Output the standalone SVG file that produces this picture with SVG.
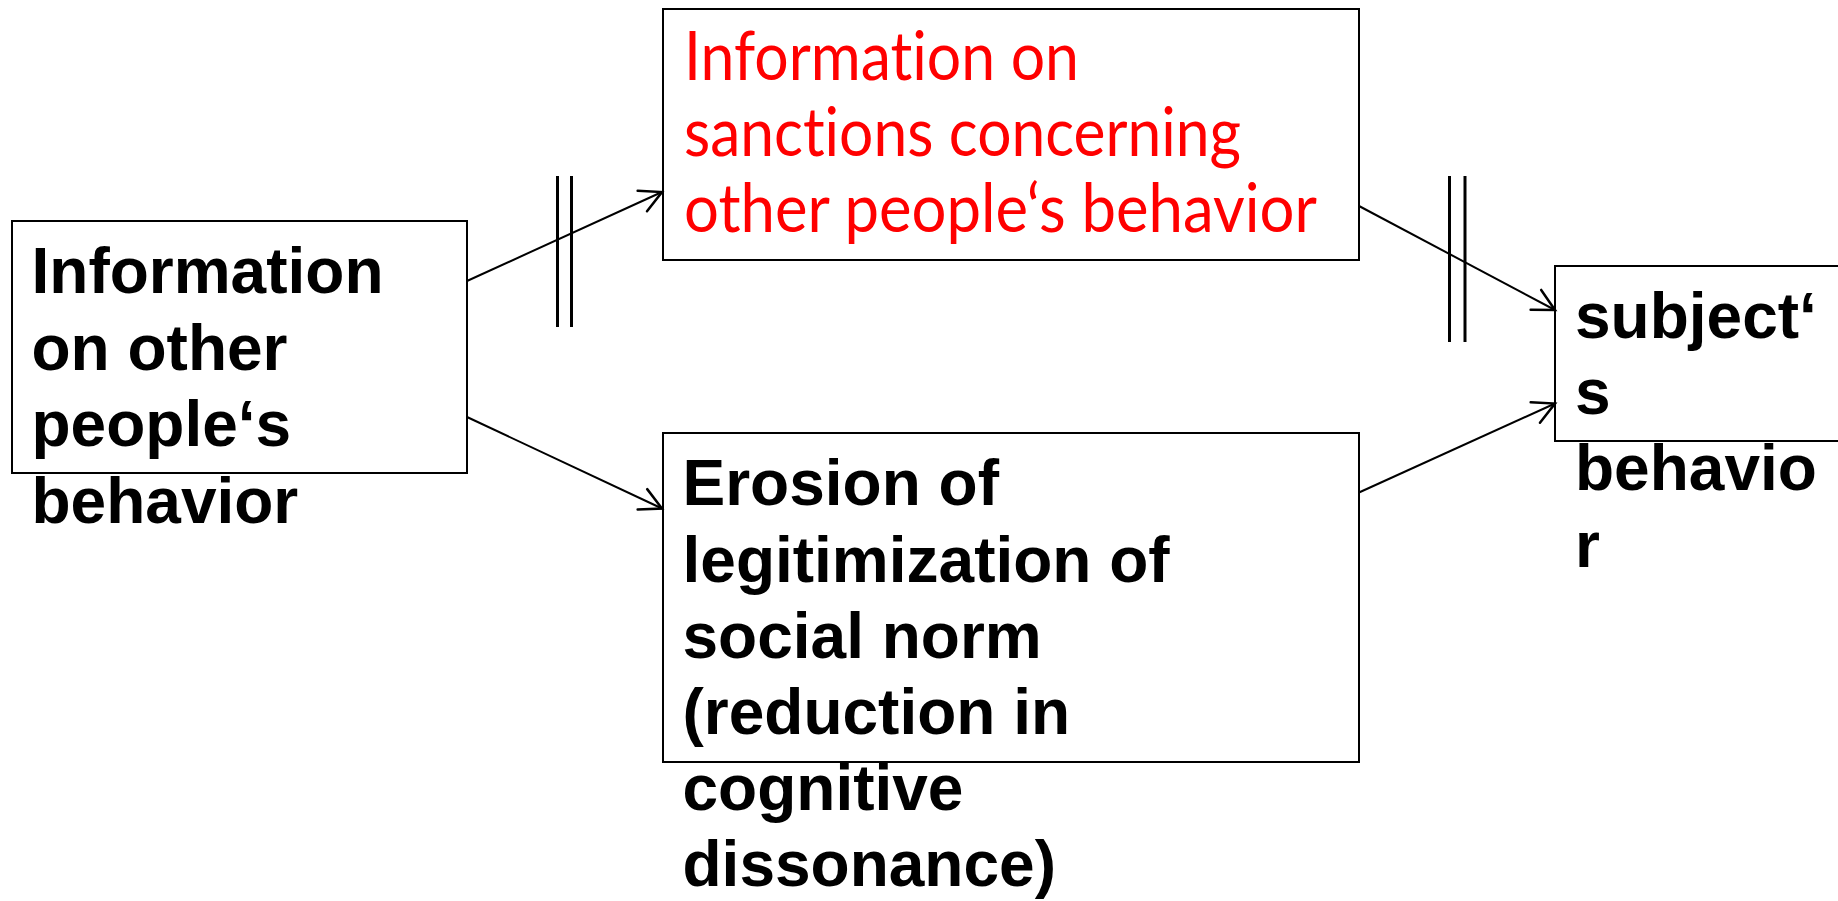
<svg xmlns="http://www.w3.org/2000/svg" width="1838" height="901" viewBox="0 0 1838 901">
  <defs>
    <style>
      .box { fill: #ffffff; stroke: #000000; stroke-width: 2; }
      .lbl { font-family: "Liberation Sans", Arial, sans-serif; font-weight: bold; font-size: 64px; fill: #000000; }
      .red { font-family: Lato, "Open Sans", sans-serif; font-size: 67px; fill: #ff0000; font-variant-ligatures: none; font-feature-settings: "liga" 0, "clig" 0; }
      .edge { fill: none; stroke: #000000; stroke-width: 2; marker-end: url(#arrow); }
      .bar { stroke: #000000; stroke-width: 3; }
    </style>
    <marker id="arrow" markerUnits="userSpaceOnUse" markerWidth="30" markerHeight="30" viewBox="-20 -12 24 24" refX="0" refY="0" orient="auto">
      <path d="M -17.3 -9 L 0 0 L -17.3 9" fill="none" stroke="#000000" stroke-width="2" stroke-linecap="round" stroke-linejoin="miter"/>
    </marker>
  </defs>

  <rect width="1838" height="901" fill="#ffffff"/>

  <!-- source: information on other people's behaviour -->
  <g id="node-info-others">
    <rect class="box" x="12" y="221" width="455" height="252"/>
    <text class="lbl">
      <tspan x="31.5" y="293">Information</tspan>
      <tspan x="31.5" y="369.5">on other</tspan>
      <tspan x="31.5" y="446">people‘s</tspan>
      <tspan x="31.5" y="522.5">behavior</tspan>
    </text>
  </g>

  <!-- upper path: sanctions -->
  <g id="node-sanctions">
    <rect class="box" x="663" y="9" width="696" height="251"/>
    <text class="red">
      <tspan x="684" y="80" textLength="395" lengthAdjust="spacingAndGlyphs">Information on</tspan>
      <tspan x="684" y="156" textLength="557" lengthAdjust="spacingAndGlyphs">sanctions concerning</tspan>
      <tspan x="684" y="232" textLength="633" lengthAdjust="spacingAndGlyphs">other people‘s behavior</tspan>
    </text>
  </g>

  <!-- lower path: norm erosion -->
  <g id="node-erosion">
    <rect class="box" x="663" y="433" width="696" height="329"/>
    <text class="lbl">
      <tspan x="682.5" y="505">Erosion of</tspan>
      <tspan x="682.5" y="581.5">legitimization of</tspan>
      <tspan x="682.5" y="658">social norm</tspan>
      <tspan x="682.5" y="734">(reduction in</tspan>
      <tspan x="682.5" y="810">cognitive</tspan>
      <tspan x="682.5" y="886">dissonance)</tspan>
    </text>
  </g>

  <!-- outcome -->
  <g id="node-subject">
    <rect class="box" x="1555" y="266" width="300" height="175"/>
    <text class="lbl">
      <tspan x="1575" y="337.5">subject‘</tspan>
      <tspan x="1575" y="413.5">s</tspan>
      <tspan x="1575" y="490">behavio</tspan>
      <tspan x="1575" y="566.5">r</tspan>
    </text>
  </g>

  <!-- connectors, with double bars marking the interrupted upper path -->
  <g id="connectors">
    <line class="edge" x1="467" y1="281" x2="662" y2="192"/>
    <line class="edge" x1="467" y1="417" x2="662" y2="508.5"/>
    <line class="edge" x1="1359" y1="206" x2="1555" y2="310"/>
    <line class="edge" x1="1359" y1="492.5" x2="1555" y2="403.5"/>
    <line class="bar" x1="557.5" y1="176" x2="557.5" y2="327"/>
    <line class="bar" x1="571.5" y1="176" x2="571.5" y2="327"/>
    <line class="bar" x1="1449.5" y1="176" x2="1449.5" y2="342"/>
    <line class="bar" x1="1465" y1="176" x2="1465" y2="342"/>
  </g>
</svg>
